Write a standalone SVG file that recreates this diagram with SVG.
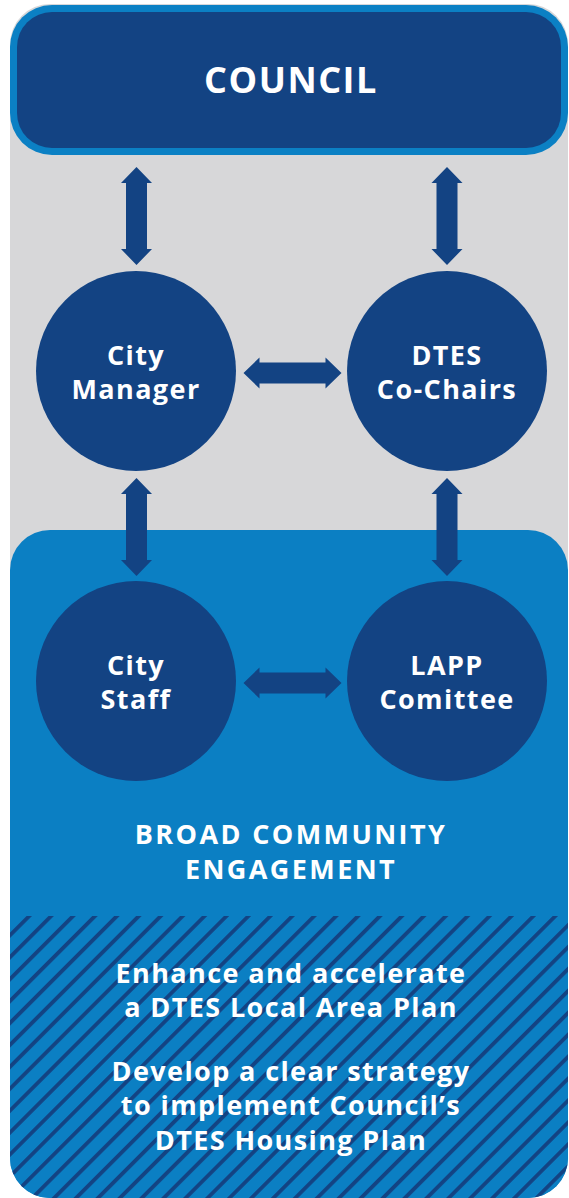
<svg xmlns="http://www.w3.org/2000/svg" xmlns:xlink="http://www.w3.org/1999/xlink" width="569" height="1198" viewBox="0 0 569 1198">
<style>
.t{font-family:"Open Sans","Liberation Sans",sans-serif;font-weight:700;fill:#ffffff;text-anchor:middle}
.n{fill:#134383}
.arr{fill:#134383}
</style>
<defs>
<pattern id="hatch" patternUnits="userSpaceOnUse" width="15.5" height="15.5" patternTransform="rotate(45)">
<rect x="0" y="0" width="15.5" height="15.5" fill="#0b7fc3"/>
<rect x="0" y="0" width="3.8" height="15.5" fill="#134383"/>
</pattern>
<path id="va" d="M0,-49 L15.5,-33 L10.5,-33 L10.5,33 L15.5,33 L0,49 L-15.5,33 L-10.5,33 L-10.5,-33 L-15.5,-33 Z"/>
<clipPath id="blueclip"><rect x="10" y="530" width="558" height="668" rx="40"/></clipPath>
</defs>
<g id="background">
<rect x="10" y="4" width="558" height="600" rx="40" fill="#d7d7d9"/>
<rect x="10" y="530" width="558" height="668" rx="40" fill="#0b7fc3"/>
<rect x="10" y="916" width="558" height="290" fill="url(#hatch)" clip-path="url(#blueclip)"/>
</g>
<g id="council">
<rect x="10" y="5" width="558" height="150" rx="42" fill="#0b80c4"/>
<rect x="17" y="12" width="544" height="136" rx="35" fill="#134383"/>
<text class="t" x="291" y="93" font-size="36" letter-spacing="1.5">COUNCIL</text>
</g>
<g id="connectors" class="arr">
<use xlink:href="#va" transform="translate(136.5,216)"/>
<use xlink:href="#va" transform="translate(447,216)"/>
<use xlink:href="#va" transform="translate(136.5,527)"/>
<use xlink:href="#va" transform="translate(447,527)"/>
<use xlink:href="#va" transform="translate(292.5,373) rotate(90)"/>
<use xlink:href="#va" transform="translate(292.5,683) rotate(90)"/>
</g>
<g id="city-manager">
<circle class="n" cx="136" cy="371" r="100"/>
<text class="t" font-size="27" letter-spacing="1.4"><tspan x="136" y="365">City</tspan><tspan x="136" y="399">Manager</tspan></text>
</g>
<g id="dtes-co-chairs">
<circle class="n" cx="447" cy="371" r="100"/>
<text class="t" font-size="27" letter-spacing="1.4"><tspan x="447" y="365">DTES</tspan><tspan x="447" y="399">Co-Chairs</tspan></text>
</g>
<g id="city-staff">
<circle class="n" cx="136" cy="681" r="100"/>
<text class="t" font-size="27" letter-spacing="1.4"><tspan x="136" y="675">City</tspan><tspan x="136" y="709">Staff</tspan></text>
</g>
<g id="lapp-comittee">
<circle class="n" cx="447" cy="681" r="100"/>
<text class="t" font-size="27" letter-spacing="1.4"><tspan x="447" y="675">LAPP</tspan><tspan x="447" y="709">Comittee</tspan></text>
</g>
<g id="broad-community">
<text class="t" font-size="27" letter-spacing="2.4"><tspan x="291" y="844">BROAD COMMUNITY</tspan><tspan x="291" y="879">ENGAGEMENT</tspan></text>
</g>
<g id="goals">
<text class="t" font-size="27" letter-spacing="1.4"><tspan x="291" y="983">Enhance and accelerate</tspan><tspan x="291" y="1017">a DTES Local Area Plan</tspan></text>
<text class="t" font-size="27" letter-spacing="1.4"><tspan x="291" y="1081">Develop a clear strategy</tspan><tspan x="291" y="1115">to implement Council’s</tspan><tspan x="291" y="1150">DTES Housing Plan</tspan></text>
</g>
</svg>
